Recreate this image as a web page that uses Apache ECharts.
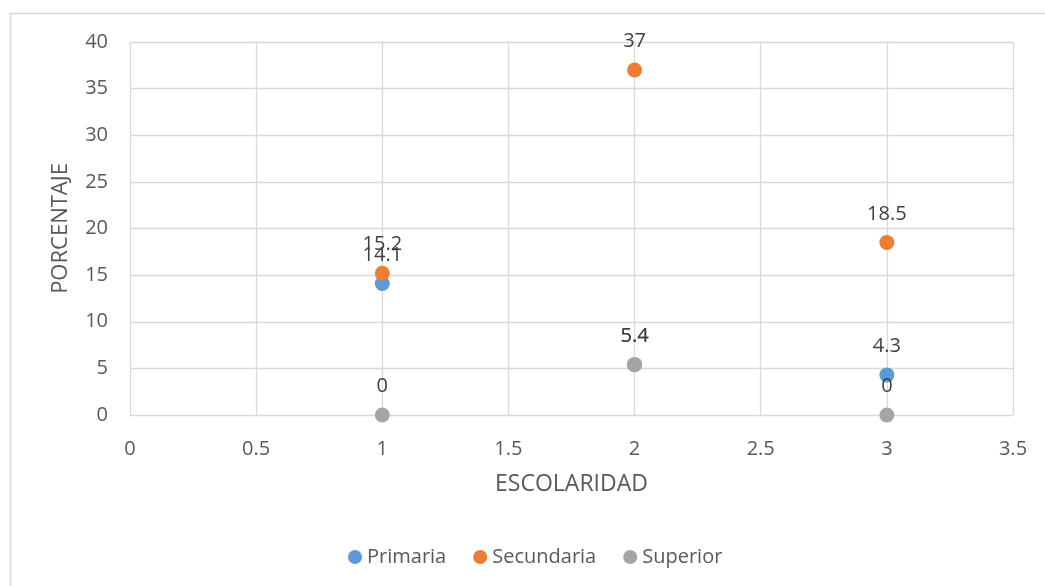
<!DOCTYPE html>
<html>
<head>
<meta charset="utf-8">
<script src="https://cdn.jsdelivr.net/npm/echarts@6/dist/echarts.min.js"></script>
<style>
  html, body { margin: 0; padding: 0; background: #ffffff; }
  #chart { width: 1045px; height: 586px; }
</style>
</head>
<body>
<div id="chart"></div>
<script>
// Nivel de escolaridad (1, 2, 3) y porcentaje por grupo
const escolaridad = [1, 2, 3];
const primaria   = [14.1, 5.4, 4.3];
const secundaria = [15.2, 37, 18.5];
const superior   = [0, 5.4, 0];

const seriesNames  = ['Primaria', 'Secundaria', 'Superior'];
const seriesColors = ['#5B9BD5', '#ED7D31', '#A5A5A5'];
const seriesValues = [primaria, secundaria, superior];

const FONT = '"Open Sans", "Noto Sans", sans-serif';
const GRID_COLOR = '#D9D9D9';
const TEXT_COLOR = '#595959';

const chart = echarts.init(document.getElementById('chart'), null, { renderer: 'canvas' });

const series = seriesNames.map((name, i) => ({
  name: name,
  type: 'scatter',
  symbol: 'circle',
  symbolSize: 15,
  itemStyle: { color: seriesColors[i], opacity: 1 },
  data: escolaridad.map((x, j) => [x, seriesValues[i][j]]),
  label: {
    show: true,
    position: 'top',
    distance: 11,
    color: '#404040',
    fontSize: 20,
    fontFamily: FONT,
    formatter: p => String(p.value[1])
  },
  emphasis: { disabled: true },
  z: 2 + i
}));

chart.setOption({
  animation: false,
  backgroundColor: '#ffffff',
  textStyle: { fontFamily: FONT },
  graphic: [{
    type: 'rect',
    shape: { x: 10.5, y: 13.5, width: 1040, height: 580 },
    style: { fill: 'none', stroke: '#D9D9D9', lineWidth: 1.5 },
    silent: true,
    z: -1
  }],
  grid: { left: 130, right: 32, top: 42, bottom: 171, containLabel: false },
  legend: {
    data: seriesNames,
    bottom: 14,
    left: 343,
    icon: 'circle',
    itemWidth: 14,
    itemHeight: 14,
    itemGap: 27,
    textStyle: { color: TEXT_COLOR, fontSize: 20, fontFamily: FONT }
  },
  xAxis: {
    type: 'value',
    min: 0,
    max: 3.5,
    interval: 0.5,
    name: 'ESCOLARIDAD',
    nameLocation: 'middle',
    nameGap: 58,
    nameTextStyle: { color: TEXT_COLOR, fontSize: 23, fontFamily: FONT },
    axisLine: { show: false },
    axisTick: { show: false },
    axisLabel: { color: TEXT_COLOR, fontSize: 20, margin: 24, fontFamily: FONT },
    splitLine: { show: true, lineStyle: { color: GRID_COLOR, width: 1.3 } }
  },
  yAxis: {
    type: 'value',
    min: 0,
    max: 40,
    interval: 5,
    name: 'PORCENTAJE',
    nameLocation: 'middle',
    nameGap: 58,
    nameTextStyle: { color: TEXT_COLOR, fontSize: 22, fontFamily: FONT },
    axisLine: { show: false },
    axisTick: { show: false },
    axisLabel: { color: TEXT_COLOR, fontSize: 20, margin: 22, fontFamily: FONT },
    splitLine: { show: true, lineStyle: { color: GRID_COLOR, width: 1.3 } }
  },
  series: series
});
</script>
</body>
</html>
